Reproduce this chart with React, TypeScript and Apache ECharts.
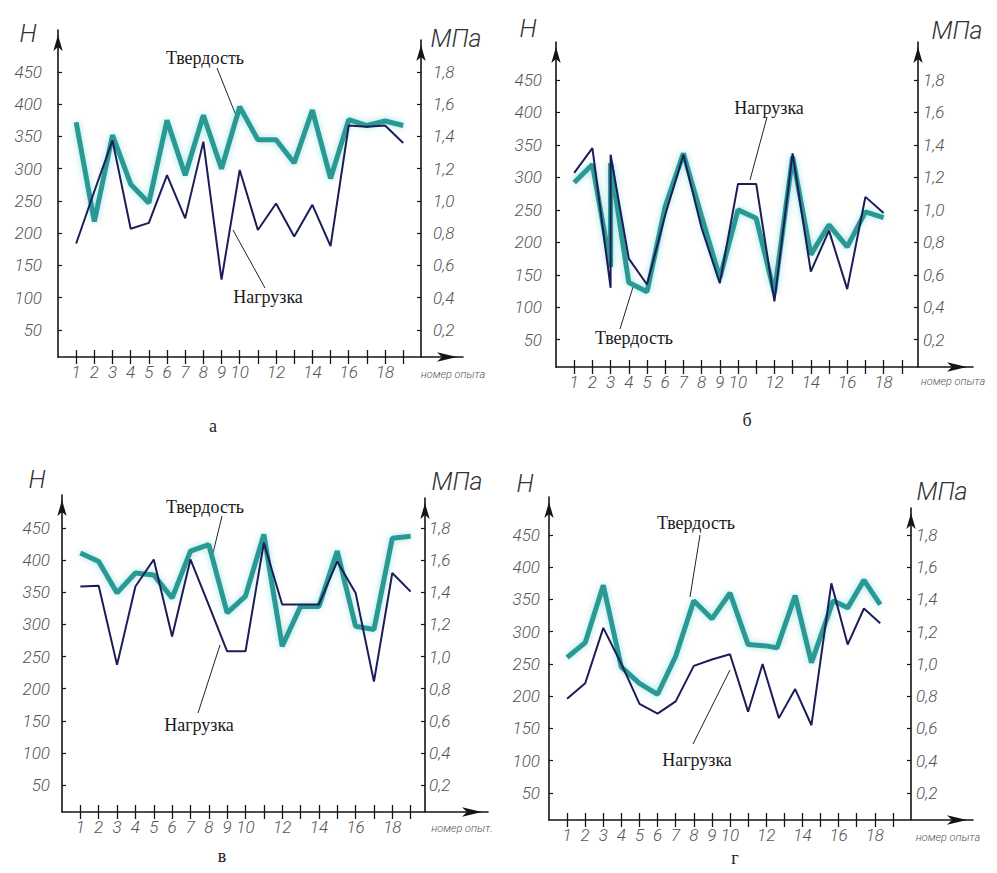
import { useEffect, useRef } from "react";
import * as echarts from "echarts";

// ---------- data ----------
const experimentTicks = [1, 2, 3, 4, 5, 6, 7, 8, 9, 10, 11, 12, 13, 14, 15, 16, 17, 18, 19];
const experimentLabels = [1, 2, 3, 4, 5, 6, 7, 8, 9, 10, 12, 14, 16, 18];
const loadTicks = [50, 100, 150, 200, 250, 300, 350, 400, 450];
const pressureTicks = [0.2, 0.4, 0.6, 0.8, 1.0, 1.2, 1.4, 1.6, 1.8];

// panel а
const hardnessA = [372, 218, 352, 276, 247, 375, 290, 383, 300, 396, 345, 345, 309, 391, 285, 376, 367, 374, 367];
const loadA = [184, 265, 344, 207, 216, 290, 223, 342, 128, 298, 205, 246, 195, 244, 180, 367, 365, 367, 340];

// panel б (vertical jump at experiment 3)
const hardnessBX = [1, 2, 3, 3, 4, 5, 6, 7, 8, 9, 10, 11, 12, 13, 14, 15, 16, 17, 18];
const hardnessB = [292, 320, 162, 322, 138, 124, 255, 337, 240, 145, 250, 237, 122, 332, 181, 227, 193, 247, 238];
const loadBX = [1, 2, 3, 3, 4, 5, 6, 7, 8, 9, 10, 11, 12, 13, 14, 15, 16, 17, 18];
const loadB = [307, 345, 130, 335, 175, 135, 242, 335, 222, 137, 290, 290, 109, 337, 155, 218, 128, 270, 245];

// panel в
const hardnessV = [411, 398, 349, 380, 377, 341, 414, 424, 318, 344, 440, 266, 328, 328, 414, 297, 292, 434, 437];
const loadV = [359, 360, 237, 359, 401, 281, 401, 330, 258, 258, 427, 331, 331, 331, 398, 349, 211, 380, 351];

// panel г
const hardnessGX = [1, 2, 3, 4, 5, 6, 7, 8, 9, 10, 11, 12, 12.6, 13.6, 14.5, 15.7, 16.5, 17.4, 18.3];
const hardnessG = [260, 283, 372, 245, 220, 203, 262, 348, 320, 360, 280, 278, 275, 356, 252, 348, 337, 380, 342];
const loadGX = [1, 2, 3, 4, 5, 6, 7, 8, 9, 10, 11, 11.8, 12.7, 13.6, 14.5, 15.6, 16.5, 17.4, 18.3];
const loadG = [196, 220, 306, 250, 188, 173, 192, 247, 257, 265, 176, 250, 166, 211, 155, 375, 280, 336, 313];

const HARDNESS = "Твердость";
const LOAD = "Нагрузка";

const pairs = (xs: number[], ys: number[]) => ys.map((y, i) => [xs[i], y]);

const panels = [
  {
    caption: "а", hx: experimentTicks, hy: hardnessA, lx: experimentTicks, ly: loadA,
    leftX: 58, rightX: 421, arrowX: 463, bottomY: 357, y450: 72, topL: 30, topR: 40, step: 18.17,
    lMargin: 16, rMargin: 12, hPos: [28, 33], mpaPos: [456, 38], xName: "номер опыта", xNamePos: [453, 374], capPos: [213, 426],
    notes: [
      { text: HARDNESS, pos: [205, 58], line: [217, 68, 237, 118] },
      { text: LOAD, pos: [268, 297], line: [265, 288, 233, 230] },
    ],
  },
  {
    caption: "б", hx: hardnessBX, hy: hardnessB, lx: loadBX, ly: loadB,
    leftX: 556, rightX: 918, arrowX: 973, bottomY: 367, y450: 80, topL: 42, topR: 42, step: 18.2,
    lMargin: 14, rMargin: 5, hPos: [528, 28], mpaPos: [957, 30], xName: "номер опыта", xNamePos: [953, 381], capPos: [747, 420],
    notes: [
      { text: LOAD, pos: [769, 108], line: [767, 117, 750, 180] },
      { text: HARDNESS, pos: [634, 338], line: [620, 329, 633, 287] },
    ],
  },
  {
    caption: "в", hx: experimentTicks, hy: hardnessV, lx: experimentTicks, ly: loadV,
    leftX: 62, rightX: 425, arrowX: 488, bottomY: 812, y450: 528, topL: 495, topR: 498, step: 18.35,
    lMargin: 12, rMargin: 4, hPos: [37, 479], mpaPos: [457, 481], xName: "номер опыт.", xNamePos: [462, 828], capPos: [222, 856],
    notes: [
      { text: HARDNESS, pos: [205, 507], line: [222, 516, 213, 553] },
      { text: LOAD, pos: [199, 725], line: [198, 713, 220, 645] },
    ],
  },
  {
    caption: "г", hx: hardnessGX, hy: hardnessG, lx: loadGX, ly: loadG,
    leftX: 549, rightX: 911, arrowX: 973, bottomY: 820, y450: 535, topL: 497, topR: 508, step: 18.1,
    lMargin: 9, rMargin: 5, hPos: [525, 483], mpaPos: [942, 491], xName: "номер опыта", xNamePos: [948, 837], capPos: [735, 858],
    notes: [
      { text: HARDNESS, pos: [696, 523], line: [700, 535, 690, 597] },
      { text: LOAD, pos: [697, 760], line: [693, 744, 730, 670] },
    ],
  },
];

const Y_MIN = 8;
const AXIS_COLOR = "#151515";
const LABEL_FONT = {
  fontFamily: "Roboto",
  fontStyle: "italic" as const,
  fontWeight: 300 as const,
  fontSize: 17,
  color: "#555",
};

function buildOption() {
  const grid: any[] = [];
  const xAxis: any[] = [];
  const yAxis: any[] = [];
  const series: any[] = [];
  const graphic: any[] = [];

  panels.forEach((p) => {
    const per = (p.bottomY - p.y450) / (450 - Y_MIN);
    const leftMax = Y_MIN + (p.bottomY - p.topL) / per;
    const rightMax = (Y_MIN + (p.bottomY - p.topR) / per) / 250;
    const xMax = (p.arrowX - p.leftX) / p.step;
    const gMain = grid.length;
    grid.push({ left: p.leftX, top: p.topL, width: p.arrowX - p.leftX, height: p.bottomY - p.topL, outerBoundsMode: "none", containLabel: false });
    const gRight = grid.length;
    grid.push({ left: p.rightX - 20, top: p.topR, width: 20, height: p.bottomY - p.topR, outerBoundsMode: "none", containLabel: false });

    const xMainIdx = xAxis.length;
    xAxis.push({
      type: "value", gridIndex: gMain, position: "bottom", min: 0, max: xMax,
      axisLine: { show: true, onZero: false, symbol: ["none", "arrow"], symbolSize: [7, 20], symbolOffset: [0, -6], lineStyle: { color: AXIS_COLOR, width: 1.6 } },
      axisTick: { show: true, customValues: experimentTicks, length: 7, lineStyle: { color: AXIS_COLOR, width: 1.3 } },
      axisLabel: { ...LABEL_FONT, customValues: experimentLabels, margin: 6 },
      splitLine: { show: false },
    });
    xAxis.push({
      type: "value", gridIndex: gMain, position: "bottom", min: 0, max: xMax,
      axisLine: { show: false, onZero: false },
      axisTick: { show: true, inside: true, customValues: experimentTicks, length: 7, lineStyle: { color: AXIS_COLOR, width: 1.3 } },
      axisLabel: { show: false },
      splitLine: { show: false },
    });
    xAxis.push({ type: "value", gridIndex: gRight, min: 0, max: 1, show: false });

    const yLeftIdx = yAxis.length;
    yAxis.push({
      type: "value", gridIndex: gMain, position: "left", min: Y_MIN, max: leftMax,
      axisLine: { show: true, onZero: false, symbol: ["none", "arrow"], symbolSize: [7, 16], symbolOffset: [0, -5], lineStyle: { color: AXIS_COLOR, width: 1.6 } },
      axisTick: { show: true, inside: true, customValues: loadTicks, length: 4, lineStyle: { color: AXIS_COLOR, width: 1.2 } },
      axisLabel: { ...LABEL_FONT, customValues: loadTicks, margin: p.lMargin },
      splitLine: { show: false },
    });
    yAxis.push({
      type: "value", gridIndex: gRight, position: "right", min: Y_MIN / 250, max: rightMax,
      axisLine: { show: true, onZero: false, symbol: ["none", "arrow"], symbolSize: [7, 16], symbolOffset: [0, -5], lineStyle: { color: AXIS_COLOR, width: 1.6 } },
      axisTick: { show: true, inside: true, customValues: pressureTicks, length: 4, lineStyle: { color: AXIS_COLOR, width: 1.2 } },
      axisLabel: { ...LABEL_FONT, customValues: pressureTicks, margin: p.rMargin, formatter: (v: number) => v.toFixed(1).replace(".", ",") },
      splitLine: { show: false },
    });

    series.push({
      name: HARDNESS, type: "line", xAxisIndex: xMainIdx, yAxisIndex: yLeftIdx,
      data: pairs(p.hx, p.hy), symbol: "none", z: 2,
      lineStyle: { color: "#2c9993", width: 5, shadowColor: "rgba(80,200,205,0.55)", shadowBlur: 6 },
    });
    series.push({
      name: LOAD, type: "line", xAxisIndex: xMainIdx, yAxisIndex: yLeftIdx,
      data: pairs(p.lx, p.ly), symbol: "none", z: 3,
      lineStyle: { color: "#1c1d58", width: 2 },
    });

    graphic.push({ type: "text", x: p.hPos[0], y: p.hPos[1], style: { text: "Н", font: "italic 300 25px Roboto", fill: "#333", textAlign: "center", textVerticalAlign: "middle" } });
    graphic.push({ type: "text", x: p.mpaPos[0], y: p.mpaPos[1], style: { text: "МПа", font: "italic 300 25px Roboto", fill: "#333", textAlign: "center", textVerticalAlign: "middle" } });
    graphic.push({ type: "text", x: p.xNamePos[0], y: p.xNamePos[1], style: { text: p.xName, font: "italic 300 11px Roboto", fill: "#555", textAlign: "center", textVerticalAlign: "middle" } });
    graphic.push({ type: "text", x: p.capPos[0], y: p.capPos[1], style: { text: p.caption, font: '18px "Liberation Serif"', fill: "#222", textAlign: "center", textVerticalAlign: "middle" } });
    p.notes.forEach((n) => {
      graphic.push({ type: "text", x: n.pos[0], y: n.pos[1], style: { text: n.text, font: '18px "Liberation Serif"', fill: "#1a1a1a", textAlign: "center", textVerticalAlign: "middle" } });
      graphic.push({ type: "line", shape: { x1: n.line[0], y1: n.line[1], x2: n.line[2], y2: n.line[3] }, style: { stroke: "#222", lineWidth: 1 } });
    });
  });

  return { animation: false, backgroundColor: "#ffffff", grid, xAxis, yAxis, series, graphic };
}

export default function App() {
  const ref = useRef<HTMLDivElement>(null);
  useEffect(() => {
    if (!ref.current) return;
    const chart = echarts.init(ref.current, null, { renderer: "svg" });
    chart.setOption(buildOption() as any);
    return () => chart.dispose();
  }, []);
  return (
    <div
      ref={ref}
      style={{ position: "fixed", left: 0, top: 0, width: 997, height: 873, background: "#fff" }}
    />
  );
}
